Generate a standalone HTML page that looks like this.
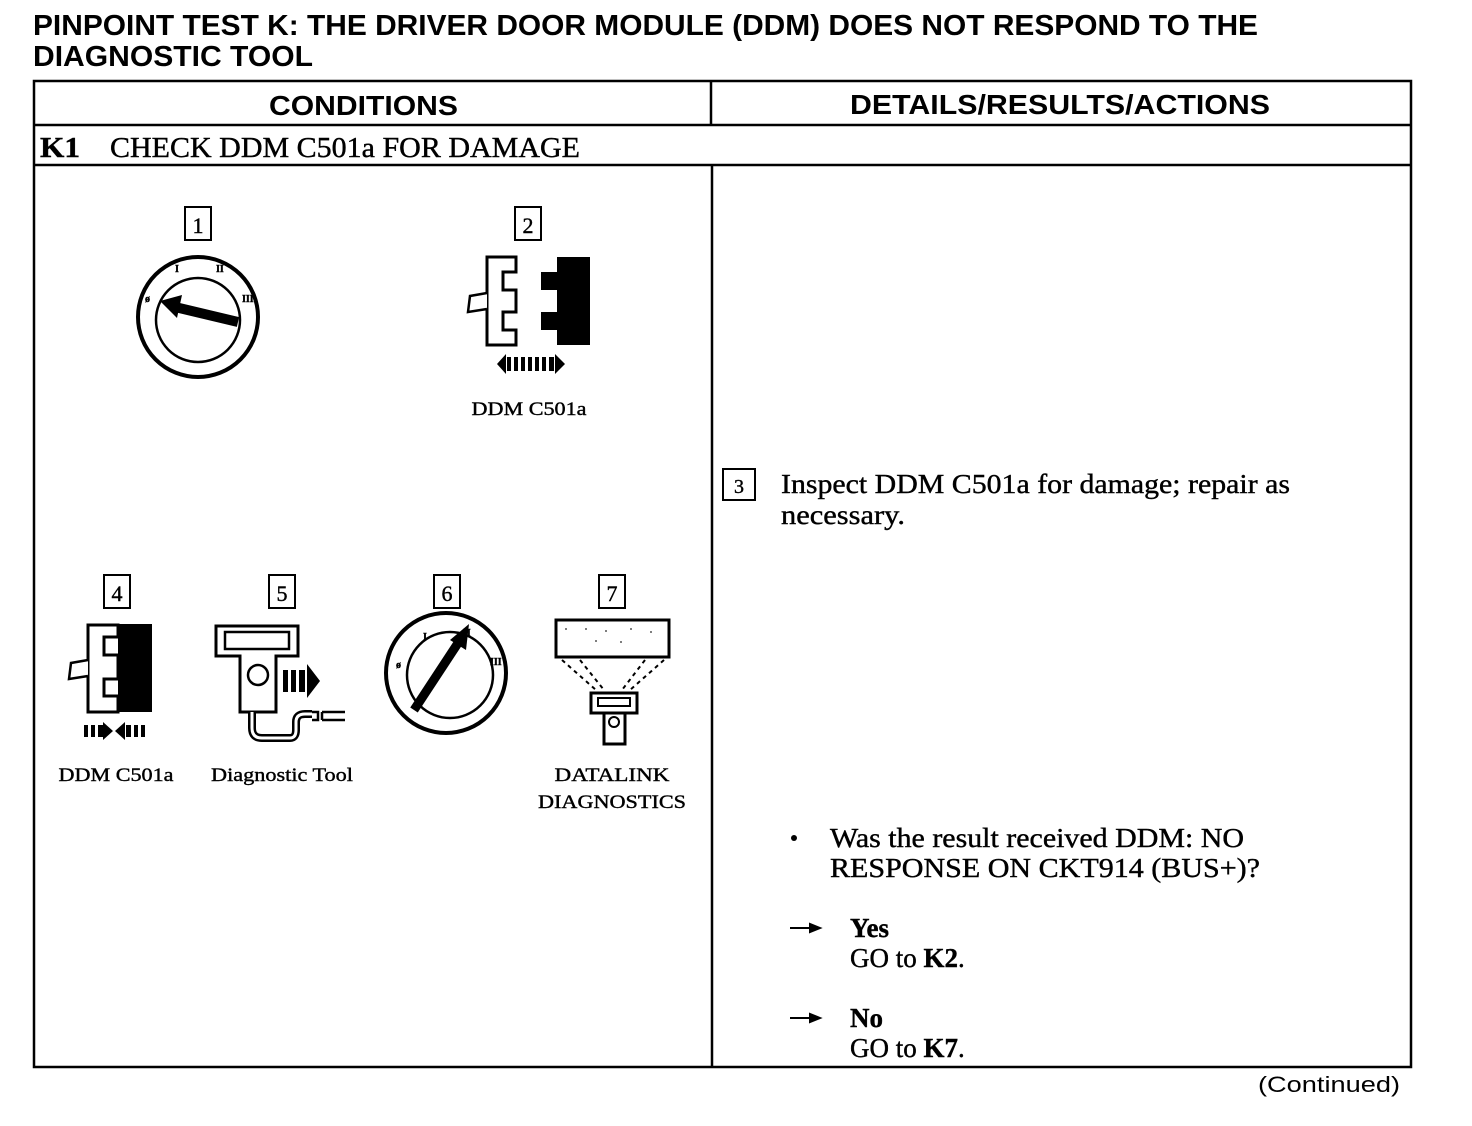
<!DOCTYPE html>
<html><head><meta charset="utf-8"><style>
html,body{margin:0;padding:0;background:#fff;}
svg{display:block}
.s{font-family:"Liberation Sans",sans-serif;font-weight:bold}
.r{font-family:"Liberation Serif",serif;stroke:#000;stroke-width:0.4}
</style></head><body>
<svg width="1472" height="1126" viewBox="0 0 1472 1126" xmlns="http://www.w3.org/2000/svg">
<rect width="1472" height="1126" fill="#fff"/>
<text class="s" x="33" y="35" font-size="29" textLength="1225" lengthAdjust="spacingAndGlyphs">PINPOINT TEST K:  THE DRIVER DOOR MODULE (DDM) DOES NOT RESPOND TO THE</text>
<text class="s" x="33" y="66" font-size="29" textLength="280" lengthAdjust="spacingAndGlyphs">DIAGNOSTIC TOOL</text>
<g fill="none" stroke="#000" stroke-width="2.5">
<rect x="34" y="81" width="1377" height="986"/>
<line x1="34" y1="125" x2="1411" y2="125"/>
<line x1="34" y1="165" x2="1411" y2="165"/>
<line x1="711" y1="81" x2="711" y2="125"/>
<line x1="712" y1="165" x2="712" y2="1067"/>
</g>
<text class="s" x="269" y="115" font-size="28" textLength="189" lengthAdjust="spacingAndGlyphs">CONDITIONS</text>
<text class="s" x="850" y="114" font-size="28" textLength="420" lengthAdjust="spacingAndGlyphs">DETAILS/RESULTS/ACTIONS</text>
<text class="r" x="40" y="157" font-size="28" font-weight="bold" textLength="40" lengthAdjust="spacingAndGlyphs">K1</text>
<text class="r" x="110" y="157" font-size="28" textLength="470" lengthAdjust="spacingAndGlyphs">CHECK DDM C501a FOR DAMAGE</text>

<g fill="none" stroke="#000" stroke-width="2">
<rect x="185" y="207" width="26" height="33"/>
<rect x="515" y="207" width="26" height="33"/>
<rect x="723" y="469" width="32" height="31"/>
<rect x="104" y="575" width="26" height="33"/>
<rect x="269" y="575" width="26" height="33"/>
<rect x="434" y="575" width="26" height="33"/>
<rect x="599" y="575" width="26" height="33"/>
</g>
<g class="r" font-size="22" text-anchor="middle">
<text x="198" y="233">1</text><text x="528" y="233">2</text><text x="739" y="493" font-size="20">3</text>
<text x="117" y="601">4</text><text x="282" y="601">5</text><text x="447" y="601">6</text><text x="612" y="601">7</text>
</g>

<!-- switch 1 -->
<g stroke="#000" fill="none">
<circle cx="198" cy="317" r="60" stroke-width="4"/>
<circle cx="198" cy="320" r="42" stroke-width="2.5"/>
<line x1="238" y1="322" x2="175" y2="307" stroke-width="10"/>
</g>
<polygon points="160,301 182,295 177,318" fill="#000"/>
<g class="r" font-size="10" font-weight="bold"><text x="145" y="302">ø</text><text x="175" y="272">I</text><text x="216" y="272">II</text><text x="242" y="302">III</text></g>

<!-- connector 2 -->
<path d="M487 257 H516 V272 H503 V290 H516 V312 H503 V330 H516 V345 H487 Z" fill="#fff" stroke="#000" stroke-width="3"/>
<path d="M487 293 L470 296 L468 312 L487 309" fill="#fff" stroke="#000" stroke-width="2.5"/>
<path d="M557 257 H590 V345 H557 V330 H541 V312 H557 V290 H541 V272 H557 Z" fill="#000"/>
<polygon points="497,364 506,354 506,374" fill="#000"/>
<g fill="#000"><rect x="507" y="357" width="4" height="14"/><rect x="514" y="357" width="4" height="14"/><rect x="521" y="357" width="4" height="14"/><rect x="528" y="357" width="4" height="14"/><rect x="535" y="357" width="4" height="14"/><rect x="542" y="357" width="4" height="14"/><rect x="549" y="357" width="5" height="14"/></g>
<polygon points="565,364 555,354 555,374" fill="#000"/>
<text class="r" x="529" y="415" font-size="19" text-anchor="middle" textLength="115" lengthAdjust="spacingAndGlyphs">DDM C501a</text>

<!-- connector 4 -->
<path d="M88 625 H118 V637 H104 V655 H118 V679 H104 V696 H118 V712 H88 Z" fill="#fff" stroke="#000" stroke-width="3"/>
<path d="M88 660 L71 663 L69 679 L88 676" fill="#fff" stroke="#000" stroke-width="2.5"/>
<path d="M118 624 H152 V712 H118 Z" fill="#000"/>
<g fill="#000"><rect x="84" y="725" width="4" height="12"/><rect x="91" y="725" width="4" height="12"/><rect x="98" y="725" width="5" height="12"/>
<polygon points="103,722 113,731 103,740"/><polygon points="125,722 115,731 125,740"/>
<rect x="126" y="725" width="5" height="12"/><rect x="134" y="725" width="4" height="12"/><rect x="141" y="725" width="4" height="12"/></g>
<text class="r" x="116" y="781" font-size="19" text-anchor="middle" textLength="115" lengthAdjust="spacingAndGlyphs">DDM C501a</text>

<!-- tool 5 -->
<path d="M216 626 H298 V656 H276 V712 H240 V656 H216 Z" fill="#fff" stroke="#000" stroke-width="3"/>
<rect x="225" y="632" width="64" height="17" fill="none" stroke="#000" stroke-width="2.5"/>
<circle cx="258" cy="675" r="10" fill="none" stroke="#000" stroke-width="2.5"/>
<g fill="#000"><rect x="283" y="670" width="5" height="22"/><rect x="291" y="670" width="5" height="22"/><rect x="299" y="670" width="6" height="22"/><polygon points="307,664 320,681 307,698"/></g>
<path d="M252 712 V728 Q252 738 262 738 H290 Q296 738 296 730 V722 Q296 714 305 714 H312" fill="none" stroke="#000" stroke-width="8"/>
<path d="M252 712 V728 Q252 738 262 738 H290 Q296 738 296 730 V722 Q296 714 305 714 H312" fill="none" stroke="#fff" stroke-width="3"/>
<path d="M312 712 H318 V720 H312 M322 712 H345 M322 720 H345 M322 712 V720" fill="none" stroke="#000" stroke-width="2.5"/>
<text class="r" x="282" y="781" font-size="19" text-anchor="middle" textLength="142" lengthAdjust="spacingAndGlyphs">Diagnostic Tool</text>

<!-- switch 6 -->
<g stroke="#000" fill="none">
<circle cx="446" cy="673" r="60" stroke-width="4"/>
<circle cx="450" cy="675" r="43" stroke-width="2.5"/>
<line x1="414" y1="710" x2="460" y2="640" stroke-width="9"/>
</g>
<polygon points="469,624 466,650 450,640" fill="#000"/>
<g class="r" font-size="10" font-weight="bold"><text x="396" y="668">ø</text><text x="423" y="640">I</text><text x="463" y="636">II</text><text x="490" y="665">III</text></g>

<!-- datalink 7 -->
<rect x="556" y="620" width="113" height="37" fill="#fff" stroke="#000" stroke-width="3"/>
<g fill="#000" opacity="0.5"><rect x="565" y="628" width="2" height="2"/><rect x="585" y="628" width="2" height="2"/><rect x="605" y="630" width="2" height="2"/><rect x="630" y="628" width="2" height="2"/><rect x="650" y="631" width="2" height="2"/><rect x="595" y="640" width="2" height="2"/><rect x="620" y="641" width="2" height="2"/></g>
<g stroke="#000" stroke-width="2" stroke-dasharray="4,4"><line x1="562" y1="660" x2="596" y2="690"/><line x1="580" y1="660" x2="604" y2="690"/><line x1="645" y1="660" x2="622" y2="690"/><line x1="664" y1="660" x2="630" y2="690"/></g>
<rect x="591" y="693" width="46" height="20" fill="#fff" stroke="#000" stroke-width="3"/>
<rect x="598" y="698" width="32" height="8" fill="#fff" stroke="#000" stroke-width="2"/>
<rect x="604" y="713" width="21" height="31" fill="#fff" stroke="#000" stroke-width="3"/>
<circle cx="614" cy="722" r="5" fill="none" stroke="#000" stroke-width="2"/>
<text class="r" x="612" y="781" font-size="19" text-anchor="middle" textLength="115" lengthAdjust="spacingAndGlyphs">DATALINK</text>
<text class="r" x="612" y="808" font-size="19" text-anchor="middle" textLength="148" lengthAdjust="spacingAndGlyphs">DIAGNOSTICS</text>

<!-- right column text -->
<text class="r" x="781" y="493" font-size="27" textLength="509" lengthAdjust="spacingAndGlyphs">Inspect DDM C501a for damage; repair as</text>
<text class="r" x="781" y="524" font-size="27" textLength="124" lengthAdjust="spacingAndGlyphs">necessary.</text>
<circle cx="794" cy="838" r="3" fill="#000"/>
<text class="r" x="830" y="847" font-size="27" textLength="414" lengthAdjust="spacingAndGlyphs">Was the result received DDM: NO</text>
<text class="r" x="830" y="877" font-size="27" textLength="430" lengthAdjust="spacingAndGlyphs">RESPONSE ON CKT914 (BUS+)?</text>
<g stroke="#000" stroke-width="2" fill="#000">
<line x1="790" y1="928" x2="814" y2="928"/><polygon points="820,928 810,924 810,932"/>
<line x1="790" y1="1018" x2="814" y2="1018"/><polygon points="820,1018 810,1014 810,1022"/>
</g>
<text class="r" x="850" y="937" font-size="27" font-weight="bold">Yes</text>
<text class="r" x="850" y="967" font-size="27">GO to <tspan font-weight="bold">K2</tspan>.</text>
<text class="r" x="850" y="1027" font-size="27" font-weight="bold">No</text>
<text class="r" x="850" y="1057" font-size="27">GO to <tspan font-weight="bold">K7</tspan>.</text>
<text font-family="Liberation Sans, sans-serif" x="1258" y="1092" font-size="22" textLength="142" lengthAdjust="spacingAndGlyphs">(Continued)</text>
</svg>
</body></html>
